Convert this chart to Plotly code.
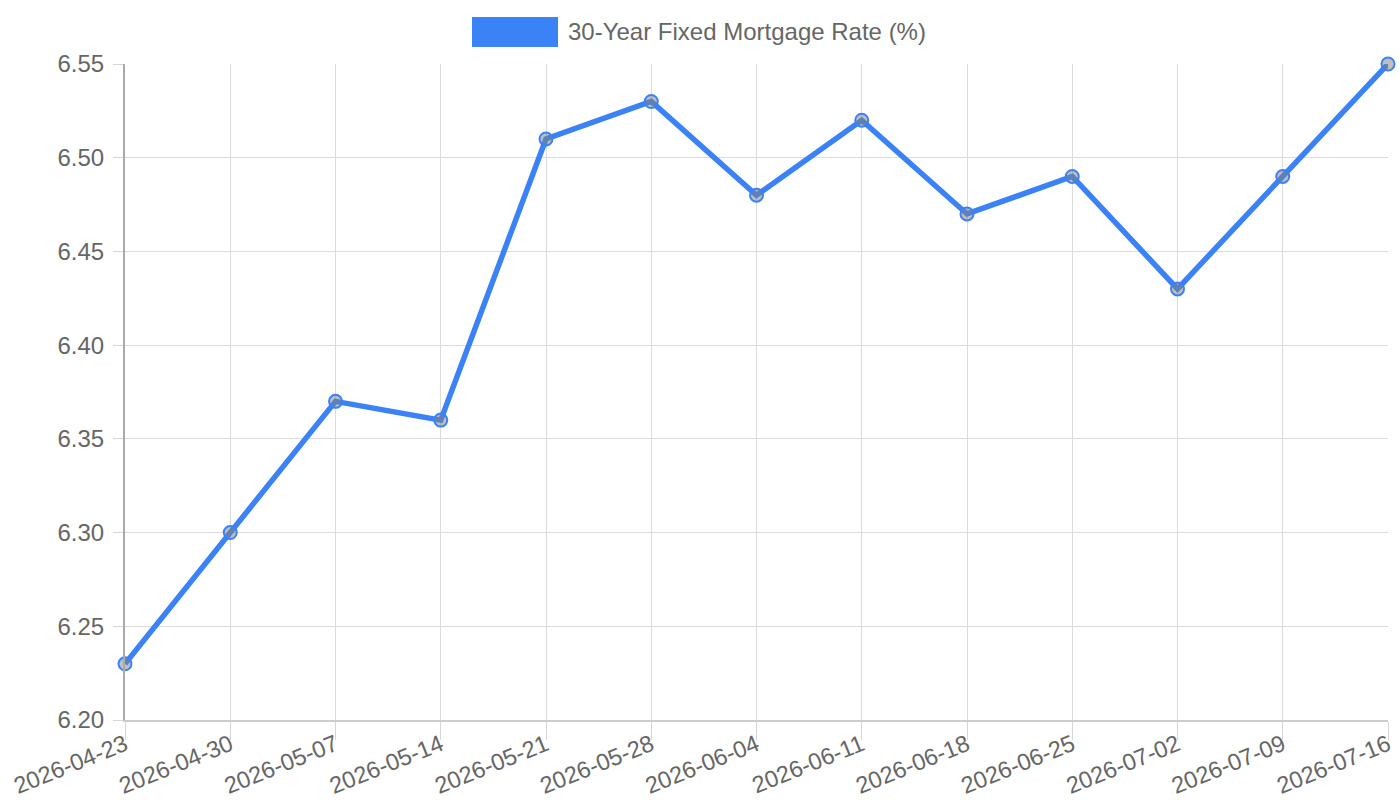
import plotly.graph_objects as go

dates = ["2026-04-23", "2026-04-30", "2026-05-07", "2026-05-14", "2026-05-21", "2026-05-28",
         "2026-06-04", "2026-06-11", "2026-06-18", "2026-06-25", "2026-07-02", "2026-07-09", "2026-07-16"]
rates = [6.23, 6.30, 6.37, 6.36, 6.51, 6.53, 6.48, 6.52, 6.47, 6.49, 6.43, 6.49, 6.55]
y_ticks = [6.20, 6.25, 6.30, 6.35, 6.40, 6.45, 6.50, 6.55]
series_name = "30-Year Fixed Mortgage Rate (%)"

BLUE = "#3b82f6"
FONT = "Liberation Sans, Arial, sans-serif"

fig = go.Figure()
fig.add_trace(go.Scatter(
    x=dates, y=rates, mode="lines+markers", name=series_name,
    line=dict(color=BLUE, width=5.5),
    marker=dict(size=13, color="rgba(128,128,128,0.5)", line=dict(color=BLUE, width=2)),
    cliponaxis=False, showlegend=False,
))

fig.update_layout(
    width=1400, height=800,
    margin=dict(l=125, r=12, t=64, b=80),
    paper_bgcolor="white", plot_bgcolor="white",
    font=dict(family=FONT, color="#666666", size=24),
    showlegend=False,
    xaxis=dict(
        type="category", range=[0, len(dates) - 1], automargin=False,
        showgrid=True, gridcolor="#dcdcdc", gridwidth=1,
        showline=True, linecolor="#cccccc", linewidth=2,
        ticks="outside", ticklen=18, tickcolor="#d6d6d6", ticklabelstandoff=-18,
        tickangle=-22, tickfont=dict(size=23.5, color="#666666"),
    ),
    yaxis=dict(
        range=[6.20, 6.55], tickvals=y_ticks, ticktext=[f"{v:.2f}" for v in y_ticks],
        automargin=False,
        showgrid=True, gridcolor="#dcdcdc", gridwidth=1,
        showline=True, linecolor="#aaaaaa", linewidth=2,
        ticks="outside", ticklen=10, tickcolor="#d6d6d6", ticklabelstandoff=4,
        tickfont=dict(size=24, color="#666666"), zeroline=False,
    ),
    shapes=[dict(type="rect", xref="paper", yref="paper",
                 x0=(472 - 125) / 1263, x1=(558 - 125) / 1263,
                 y0=(720 - 47) / 656, y1=(720 - 17) / 656,
                 fillcolor=BLUE, line=dict(width=0))],
    annotations=[dict(text=series_name, xref="paper", yref="paper",
                      x=(566 - 125) / 1263, y=(720 - 32) / 656,
                      xanchor="left", yanchor="middle", showarrow=False,
                      font=dict(size=24, color="#666666", family=FONT))],
)

fig.write_html("out.html")
